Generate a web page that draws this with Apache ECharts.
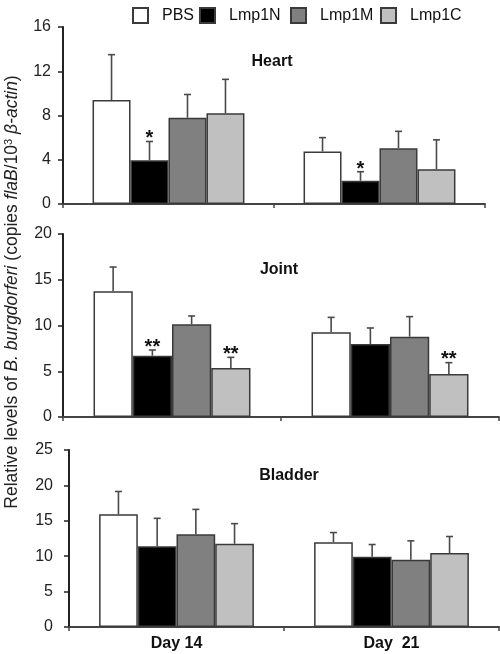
<!DOCTYPE html>
<html>
<head>
<meta charset="utf-8">
<script src="https://cdn.jsdelivr.net/npm/echarts@6/dist/echarts.min.js"></script>
<style>
html,body{margin:0;padding:0;background:#fff;}
#chart{width:500px;height:654px;}
</style>
</head>
<body>
<div id="chart"></div>
<script>
// ---------------- data ----------------
const categories = ['Day 14', 'Day  21'];
const groups = ['PBS', 'Lmp1N', 'Lmp1M', 'Lmp1C'];
const groupColors = ['#ffffff', '#000000', '#808080', '#c0c0c0'];

// rows: PBS, Lmp1N, Lmp1M, Lmp1C ; columns: Day 14, Day 21
const heartMeans = [[9.4, 4.75], [3.95, 2.1], [7.8, 5.05], [8.2, 3.15]];
const heartSD    = [[4.1, 1.25], [1.7, 0.82], [2.1, 1.52], [3.07, 2.65]];
const heartSig   = [['', ''], ['*', '*'], ['', ''], ['', '']];

const jointMeans = [[13.73, 9.25], [6.7, 7.98], [10.13, 8.78], [5.36, 4.7]];
const jointSD    = [[2.66, 1.64], [0.62, 1.75], [0.91, 2.19], [1.16, 1.24]];
const jointSig   = [['', ''], ['**', ''], ['', ''], ['**', '**']];

const bladderMeans = [[15.91, 11.98], [11.42, 9.92], [13.1, 9.5], [11.75, 10.44]];
const bladderSD    = [[3.23, 1.36], [3.93, 1.73], [3.51, 2.67], [2.85, 2.34]];
const bladderSig   = [['', ''], ['', ''], ['', ''], ['', '']];

const yMax = [16, 20, 25];
const yInterval = [4, 5, 5];
const panelNames = ['Heart', 'Joint', 'Bladder'];

// ---------------- chart ----------------
const FONT = '"Liberation Sans", Arial, sans-serif';
const GAP = 0.28;
const panels = [
  {means: heartMeans, sd: heartSD, sig: heartSig},
  {means: jointMeans, sd: jointSD, sig: jointSig},
  {means: bladderMeans, sd: bladderSD, sig: bladderSig}
];

const grids = [
  {left: 63, right: 15, top: 27, height: 177},
  {left: 63, right: 1, top: 234, height: 183},
  {left: 69, right: 1, top: 450, height: 177}
];
const labelMargins = [12, 11, 16];

const xAxes = grids.map((g, i) => ({
  type: 'category', gridIndex: i, data: categories,
  axisLine: {show: true, lineStyle: {color: '#444', width: 2}},
  axisTick: {show: true, length: 4, lineStyle: {color: '#444', width: 1.5}},
  axisLabel: {show: i === 2, margin: 9, color: '#111', fontFamily: FONT, fontSize: 16, fontWeight: 'bold'}
}));
const yAxes = grids.map((g, i) => ({
  type: 'value', gridIndex: i, min: 0, max: yMax[i], interval: yInterval[i],
  splitLine: {show: false},
  axisLine: {show: true, lineStyle: {color: '#222', width: 2}},
  axisTick: {show: true, length: 5, lineStyle: {color: '#222', width: 1.5}},
  axisLabel: {margin: labelMargins[i], color: '#222', fontFamily: FONT, fontSize: 16}
}));

const series = [];
panels.forEach((p, pi) => {
  groups.forEach((name, si) => {
    series.push({
      type: 'bar', name: name, xAxisIndex: pi, yAxisIndex: pi,
      data: p.means[si],
      barGap: '0%', barCategoryGap: (GAP * 100) + '%',
      itemStyle: {color: groupColors[si], borderColor: '#3a3a3a', borderWidth: 1.5},
      emphasis: {disabled: true},
      silent: true
    });
  });
  const errData = [];
  const sigTexts = [];
  groups.forEach((name, si) => {
    categories.forEach((c, ci) => {
      errData.push([ci, si, p.means[si][ci], p.means[si][ci] + p.sd[si][ci]]);
      sigTexts.push(p.sig[si][ci]);
    });
  });
  series.push({
    type: 'custom', xAxisIndex: pi, yAxisIndex: pi, z: 5, silent: true,
    encode: {x: 0, y: 3},
    data: errData,
    renderItem: function (params, api) {
      const ci = api.value(0), si = api.value(1);
      const mean = api.value(2), top = api.value(3);
      const base = api.coord([ci, mean]);
      const tp = api.coord([ci, top]);
      const catW = api.size([1, 0])[0];
      const barW = catW * (1 - GAP) / groups.length;
      const x = base[0] + (si - (groups.length - 1) / 2) * barW;
      const children = [
        {type: 'line', shape: {x1: x, y1: base[1], x2: x, y2: tp[1]}, style: {stroke: '#4a4a4a', lineWidth: 1.6}},
        {type: 'line', shape: {x1: x - 3.5, y1: tp[1], x2: x + 3.5, y2: tp[1]}, style: {stroke: '#4a4a4a', lineWidth: 1.6}}
      ];
      const s = sigTexts[params.dataIndex];
      if (s) {
        children.push({type: 'text', x: x, y: tp[1] - 2.7,
          style: {text: s, align: 'center', verticalAlign: 'middle', fontFamily: FONT, fontSize: 20, fontWeight: 'bold', fill: '#111'}});
      }
      return {type: 'group', children: children};
    }
  });
});

const legendLefts = [127, 194, 285, 375];
const legends = groups.map((name, i) => ({
  data: [name], left: legendLefts[i], top: 2, itemWidth: 15, itemHeight: 15, itemGap: 0,
  icon: 'rect', selectedMode: false,
  textStyle: {fontFamily: FONT, fontSize: 16, color: '#111', padding: [0, 0, 0, 9]}
}));

const titlePos = [[272, 62], [279, 270], [289, 476]];
const graphics = panelNames.map((t, i) => ({
  type: 'text', x: titlePos[i][0], y: titlePos[i][1],
  style: {text: t, align: 'center', verticalAlign: 'middle', fontFamily: FONT, fontSize: 16, fontWeight: 'bold', fill: '#111'}
}));
graphics.push({
  type: 'text', x: 12, y: 292, rotation: Math.PI / 2,
  style: {
    text: '{a|Relative levels of }{i|B. burgdorferi}{a| (copies }{i|flaB}{a|/10}{s|3}{a| }{i|β-actin}{a|)}',
    align: 'center', verticalAlign: 'middle',
    rich: {
      a: {fontFamily: FONT, fontSize: 17.5, fill: '#222', color: '#222'},
      i: {fontFamily: FONT, fontSize: 17.5, fontStyle: 'italic', fill: '#222', color: '#222'},
      s: {fontFamily: FONT, fontSize: 11, fill: '#222', color: '#222', verticalAlign: 'top'}
    }
  }
});

const chart = echarts.init(document.getElementById('chart'), null, {renderer: 'canvas'});
chart.setOption({
  animation: false,
  backgroundColor: '#ffffff',
  grid: grids,
  xAxis: xAxes,
  yAxis: yAxes,
  legend: legends,
  series: series,
  graphic: graphics
});
</script>
</body>
</html>
